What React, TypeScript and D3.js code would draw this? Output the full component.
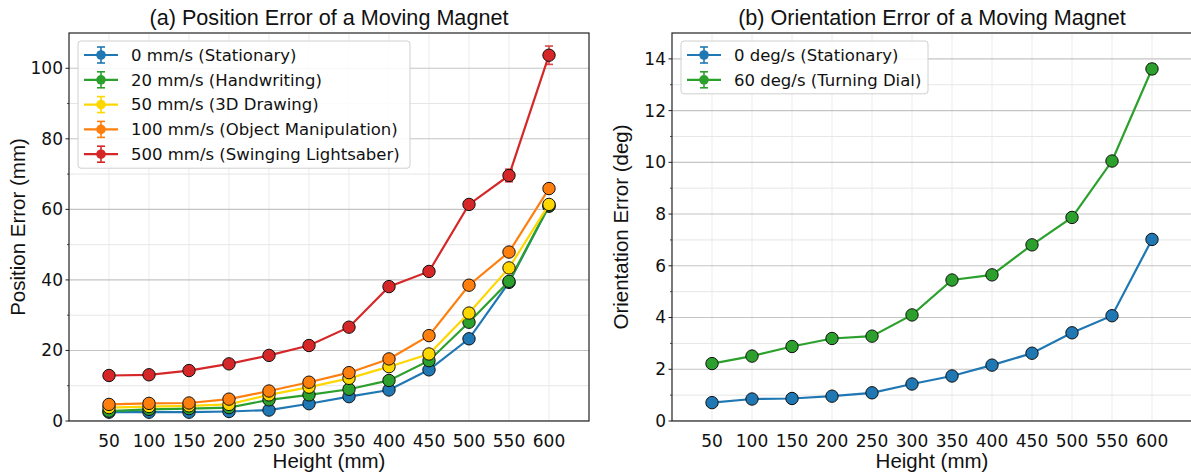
import React from 'react';
import * as d3 from 'd3';

// magnet heights (x axis)
const heights = [50, 100, 150, 200, 250, 300, 350, 400, 450, 500, 550, 600];

// (a) position error, mm
const posLabels = [
  '0 mm/s (Stationary)',
  '20 mm/s (Handwriting)',
  '50 mm/s (3D Drawing)',
  '100 mm/s (Object Manipulation)',
  '500 mm/s (Swinging Lightsaber)',
];
const posColors = ['#1f77b4', '#2ca02c', '#ffd700', '#ff7f0e', '#d62728'];
const pos0 = [2.5, 2.5, 2.5, 2.7, 3.1, 4.9, 6.9, 8.8, 14.5, 23.3, 39.3, 60.9];
const pos20 = [2.8, 3.3, 3.5, 3.8, 6.0, 7.4, 9.0, 11.5, 17.1, 28.0, 39.6, 61.0];
const pos50 = [3.8, 4.1, 4.3, 4.7, 7.4, 9.6, 12.1, 15.4, 19.0, 30.6, 43.4, 61.4];
const pos100 = [4.7, 5.0, 5.1, 6.2, 8.5, 11.0, 13.7, 17.6, 24.2, 38.5, 47.9, 65.9];
const pos500 = [12.9, 13.1, 14.3, 16.2, 18.6, 21.4, 26.6, 38.1, 42.4, 61.4, 69.6, 103.7];
const pos0Err = [0.1, 0.1, 0.1, 0.1, 0.1, 0.1, 0.2, 0.2, 0.3, 0.4, 0.5, 0.6];
const pos20Err = [0.1, 0.1, 0.1, 0.1, 0.1, 0.2, 0.2, 0.2, 0.3, 0.4, 0.5, 0.6];
const pos50Err = [0.1, 0.1, 0.1, 0.1, 0.2, 0.2, 0.2, 0.3, 0.3, 0.5, 0.5, 0.6];
const pos100Err = [0.1, 0.1, 0.1, 0.2, 0.2, 0.2, 0.3, 0.3, 0.4, 0.5, 0.6, 0.7];
const pos500Err = [0.3, 0.3, 0.3, 0.4, 0.5, 0.5, 0.6, 0.8, 0.9, 1.3, 1.8, 2.6];

// (b) orientation error, deg
const oriLabels = ['0 deg/s (Stationary)', '60 deg/s (Turning Dial)'];
const oriColors = ['#1f77b4', '#2ca02c'];
const ori0 = [0.71, 0.85, 0.87, 0.96, 1.09, 1.43, 1.74, 2.16, 2.62, 3.41, 4.07, 7.02];
const ori60 = [2.22, 2.51, 2.88, 3.19, 3.28, 4.1, 5.45, 5.65, 6.81, 7.87, 10.05, 13.61];
const ori0Err = [0.02, 0.02, 0.02, 0.02, 0.02, 0.03, 0.03, 0.03, 0.04, 0.05, 0.06, 0.08];
const ori60Err = [0.03, 0.03, 0.04, 0.04, 0.04, 0.05, 0.06, 0.06, 0.07, 0.09, 0.15, 0.2];

const posYMajor = [0, 20, 40, 60, 80, 100];
const posYMinor = [10, 30, 50, 70, 90];
const oriYMajor = [0, 2, 4, 6, 8, 10, 12, 14];
const oriYMinor = [1, 3, 5, 7, 9, 11, 13];

const WIDTH = 1191;
const HEIGHT = 472;
const TOP = 33;
const PLOT_H = 388;
const PLOT_W = 520;

const sans = '"Liberation Sans", Arial, Helvetica, sans-serif';
const dejavu = '"DejaVu Sans", sans-serif';

type Series = { label: string; color: string; values: number[]; err: number[] };

interface PanelProps {
  left: number;
  yMax: number;
  yMajor: number[];
  yMinor: number[];
  series: Series[];
  title: string;
  yLabel: string;
  legendWidth: number;
}

const Panel = ({ left, yMax, yMajor, yMinor, series, title, yLabel, legendWidth }: PanelProps) => {
  const xScale = d3.scaleLinear().domain([0, 650]).range([left, left + PLOT_W]);
  const yScale = d3.scaleLinear().domain([0, yMax]).range([TOP + PLOT_H, TOP]);
  const bottom = TOP + PLOT_H;
  const cx = left + PLOT_W / 2;

  const line = d3
    .line<number>()
    .x((_, i) => xScale(heights[i]))
    .y((d) => yScale(d));

  const lgX = left + 9;
  const lgY = TOP + 8;
  const rowH = 24.8;
  const lgH = 28 + (series.length - 1) * rowH;

  return (
    <g>
      <defs>
        <clipPath id={`clip-${left}`}>
          <rect x={left} y={TOP} width={PLOT_W} height={PLOT_H} />
        </clipPath>
      </defs>
      {/* grid */}
      <g clipPath={`url(#clip-${left})`}>
        {heights.map((h) => (
          <line key={`vx${h}`} x1={xScale(h)} x2={xScale(h)} y1={TOP} y2={bottom} stroke="#ebebeb" strokeWidth={1} />
        ))}
        {yMinor.map((v) => (
          <line key={`mn${v}`} x1={left} x2={left + PLOT_W} y1={yScale(v)} y2={yScale(v)} stroke="#e6e6e6" strokeWidth={1} />
        ))}
        {yMajor.map((v) => (
          <line key={`mj${v}`} x1={left} x2={left + PLOT_W} y1={yScale(v)} y2={yScale(v)} stroke="#c4c4c4" strokeWidth={1.1} />
        ))}
      </g>

      {/* series */}
      <g clipPath={`url(#clip-${left})`}>
        {series.map((s) => (
          <g key={s.label}>
            <path d={line(s.values) || ''} fill="none" stroke={s.color} strokeWidth={2.2} />
            {s.values.map((v, i) => {
              const x = xScale(heights[i]);
              const y0 = yScale(v - s.err[i]);
              const y1 = yScale(v + s.err[i]);
              return (
                <g key={i} stroke={s.color} strokeWidth={1.6} opacity={0.85}>
                  <line x1={x} x2={x} y1={y0} y2={y1} />
                  <line x1={x - 4} x2={x + 4} y1={y0} y2={y0} />
                  <line x1={x - 4} x2={x + 4} y1={y1} y2={y1} />
                </g>
              );
            })}
            {s.values.map((v, i) => (
              <circle key={`c${i}`} cx={xScale(heights[i])} cy={yScale(v)} r={6.2} fill={s.color} stroke="#111" strokeWidth={1} />
            ))}
          </g>
        ))}
      </g>

      {/* spines */}
      <rect x={left} y={TOP} width={PLOT_W} height={PLOT_H} fill="none" stroke="#222" strokeWidth={1.2} />

      {/* y ticks */}
      {yMajor.map((v) => (
        <g key={`yt${v}`}>
          <line x1={left - 3.5} x2={left} y1={yScale(v)} y2={yScale(v)} stroke="#222" strokeWidth={1} />
          <text x={left - 6} y={yScale(v)} dy="0.35em" textAnchor="end" fontFamily={dejavu} fontSize={17} fill="#111">
            {v}
          </text>
        </g>
      ))}
      {yMinor.map((v) => (
        <line key={`ym${v}`} x1={left - 2} x2={left} y1={yScale(v)} y2={yScale(v)} stroke="#222" strokeWidth={0.8} />
      ))}

      {/* x ticks */}
      {heights.map((h) => (
        <text key={`xt${h}`} x={xScale(h)} y={bottom + 26} textAnchor="middle" fontFamily={dejavu} fontSize={17} fill="#111">
          {h}
        </text>
      ))}

      {/* labels */}
      <text x={cx} y={25} textAnchor="middle" fontFamily={sans} fontSize={21.6} fill="#111">
        {title}
      </text>
      <text x={cx} y={bottom + 47} textAnchor="middle" fontFamily={sans} fontSize={20.5} fill="#111">
        Height (mm)
      </text>
      <text
        transform={`translate(${left - 44}, ${TOP + PLOT_H / 2}) rotate(-90)`}
        textAnchor="middle"
        fontFamily={sans}
        fontSize={20.5}
        fill="#111"
      >
        {yLabel}
      </text>

      {/* legend */}
      <g>
        <rect x={lgX} y={lgY} width={legendWidth} height={lgH} rx={3} fill="#fff" fillOpacity={0.85} stroke="#d0d0d0" strokeWidth={1} />
        {series.map((s, i) => {
          const ry = lgY + 14 + i * rowH;
          const hx = lgX + 23;
          return (
            <g key={`lg${i}`}>
              <line x1={lgX + 6} x2={lgX + 40} y1={ry} y2={ry} stroke={s.color} strokeWidth={2.2} />
              <g stroke={s.color} strokeWidth={1.6}>
                <line x1={hx} x2={hx} y1={ry - 8} y2={ry + 8} />
                <line x1={hx - 4} x2={hx + 4} y1={ry - 8} y2={ry - 8} />
                <line x1={hx - 4} x2={hx + 4} y1={ry + 8} y2={ry + 8} />
              </g>
              <circle cx={hx} cy={ry} r={4.8} fill={s.color} />
              <text x={lgX + 53} y={ry} dy="0.35em" fontFamily={dejavu} fontSize={16.5} fill="#111">
                {s.label}
              </text>
            </g>
          );
        })}
      </g>
    </g>
  );
};

const App = () => {
  const posSeries: Series[] = [pos0, pos20, pos50, pos100, pos500].map((values, i) => ({
    label: posLabels[i],
    color: posColors[i],
    values,
    err: [pos0Err, pos20Err, pos50Err, pos100Err, pos500Err][i],
  }));
  const oriSeries: Series[] = [ori0, ori60].map((values, i) => ({
    label: oriLabels[i],
    color: oriColors[i],
    values,
    err: [ori0Err, ori60Err][i],
  }));

  return (
    <svg
      width={WIDTH}
      height={HEIGHT}
      viewBox={`0 0 ${WIDTH} ${HEIGHT}`}
      style={{ position: 'fixed', left: 0, top: 0, background: '#fff' }}
    >
      <rect width={WIDTH} height={HEIGHT} fill="#fff" />
      <Panel
        left={69}
        yMax={110}
        yMajor={posYMajor}
        yMinor={posYMinor}
        series={posSeries}
        title="(a) Position Error of a Moving Magnet"
        yLabel="Position Error (mm)"
        legendWidth={332}
      />
      <Panel
        left={672}
        yMax={15}
        yMajor={oriYMajor}
        yMinor={oriYMinor}
        series={oriSeries}
        title="(b) Orientation Error of a Moving Magnet"
        yLabel="Orientation Error (deg)"
        legendWidth={247}
      />
    </svg>
  );
};

export default App;
